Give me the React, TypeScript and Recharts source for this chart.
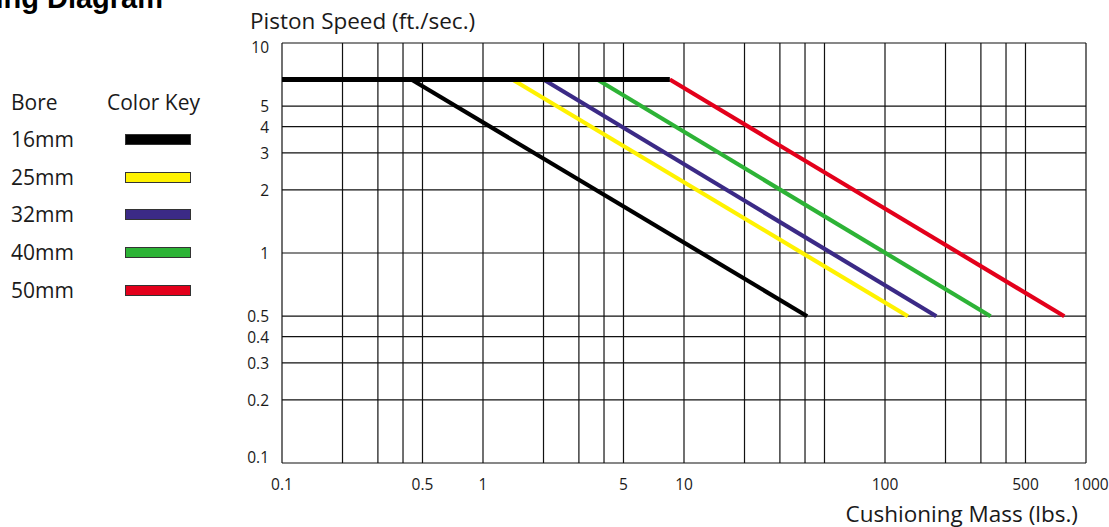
import { LineChart, Line, XAxis, YAxis, CartesianGrid } from "recharts";

const bores = ["16mm", "25mm", "32mm", "40mm", "50mm"];
const boreColors = ["#000000", "#fff200", "#3b2a86", "#2db336", "#e3001b"];
// mass (lbs.) where each bore leaves the speed plateau, and where it reaches 0.5 ft/sec
const startMass = [0.44, 1.4, 2.0, 3.7, 8.5];
const endMass = [41, 130, 180, 335, 780];
const plateauSpeed = 6.7;
const endSpeed = 0.5;
const plateauMass = [0.1, 8.5];

const xTicks = [0.1, 0.2, 0.3, 0.4, 0.5, 1, 2, 3, 4, 5, 10, 20, 30, 40, 50, 100, 200, 300, 400, 500, 1000];
const xLabels = [0.1, 0.5, 1, 5, 10, 100, 500, 1000];
const yTicks = [0.1, 0.2, 0.3, 0.4, 0.5, 1, 2, 3, 4, 5, 10];

const FONT = "'Open Sans', sans-serif";
const INK = "#1a1a1a";

const XTick = (props: any) => {
  const { x, y, payload } = props;
  if (!xLabels.includes(payload.value)) return <g />;
  const dx = payload.value === 1000 ? 5 : 0;
  return (
    <text x={x + dx} y={y} textAnchor="middle" dominantBaseline="central" fontSize={15.5} fill={INK} fontFamily={FONT}>
      {String(payload.value)}
    </text>
  );
};

const YTick = (props: any) => {
  const { x, y, payload } = props;
  // end labels sit slightly inside the frame in the original
  const dy = payload.value === 10 ? 4 : payload.value === 0.1 ? -6 : 0;
  return (
    <text x={x} y={y + dy} textAnchor="end" dominantBaseline="central" fontSize={15.5} fill={INK} fontFamily={FONT}>
      {String(payload.value)}
    </text>
  );
};

const yTitle = ({ viewBox }: any) => (
  <text x={viewBox.x + 28} y={viewBox.y - 23} dominantBaseline="central" fontSize={22.5} fill={INK} fontFamily={FONT}>
    Piston Speed (ft./sec.)
  </text>
);

const xTitle = ({ viewBox }: any) => (
  <text
    x={viewBox.x + viewBox.width - 8}
    y={viewBox.y + 50}
    textAnchor="end"
    dominantBaseline="central"
    fontSize={22.5}
    fill={INK}
    fontFamily={FONT}
  >
    Cushioning Mass (lbs.)
  </text>
);

export default function App() {
  const plateau = plateauMass.map((m) => ({ x: m, y: plateauSpeed }));

  return (
    <div style={{ position: "absolute", left: 0, top: 0, width: 1109, height: 527, background: "#fff", fontFamily: FONT }}>
      <svg style={{ position: "absolute", left: 0, top: 0, overflow: "visible" }} width={300} height={30}>
        <text x={163} y={8} textAnchor="end" fontSize={29} fontWeight="bold" fill="#000" fontFamily="'Liberation Sans', Arial, sans-serif">
          Cushioning Diagram
        </text>
      </svg>

      <div style={{ position: "absolute", left: 0, top: 0, color: INK, fontSize: 21 }}>
        <div style={{ position: "absolute", left: 11, top: 102, transform: "translateY(-50%)", whiteSpace: "nowrap" }}>Bore</div>
        <div style={{ position: "absolute", left: 107, top: 102, transform: "translateY(-50%)", whiteSpace: "nowrap" }}>Color Key</div>
        {bores.map((b, i) => (
          <div key={b}>
            <div style={{ position: "absolute", left: 11, top: 139 + i * 37.7, transform: "translateY(-50%)", whiteSpace: "nowrap" }}>{b}</div>
            <div
              style={{
                position: "absolute",
                left: 125,
                top: 139 + i * 37.7 - 5,
                width: 64,
                height: 9,
                background: boreColors[i],
                border: "1px solid #333",
              }}
            />
          </div>
        ))}
      </div>

      <div style={{ position: "absolute", left: 0, top: 0 }}>
        <LineChart width={1109} height={527} margin={{ top: 43, right: 23, bottom: 34, left: 222 }}>
          <CartesianGrid stroke="#111" strokeWidth={1.2} />
          <XAxis
            dataKey="x"
            type="number"
            scale="log"
            domain={[0.1, 1000]}
            ticks={xTicks}
            interval={0}
            allowDataOverflow
            height={30}
            axisLine={false}
            tickLine={false}
            tickSize={0}
            tickMargin={21}
            tick={XTick}
            label={xTitle}
          />
          <YAxis
            type="number"
            scale="log"
            domain={[0.1, 10]}
            ticks={yTicks}
            interval={0}
            allowDataOverflow
            width={60}
            axisLine={false}
            tickLine={false}
            tickSize={0}
            tickMargin={13}
            tick={YTick}
            label={yTitle}
          />
          {bores.map((b, i) => (
            <Line
              key={b}
              data={[
                { x: startMass[i], y: plateauSpeed },
                { x: endMass[i], y: endSpeed },
              ]}
              dataKey="y"
              stroke={boreColors[i]}
              strokeWidth={4.2}
              dot={false}
              activeDot={false}
              isAnimationActive={false}
            />
          ))}
          <Line
            data={plateau}
            dataKey="y"
            stroke="#000"
            strokeWidth={5}
            dot={false}
            activeDot={false}
            isAnimationActive={false}
          />
        </LineChart>
      </div>
    </div>
  );
}
